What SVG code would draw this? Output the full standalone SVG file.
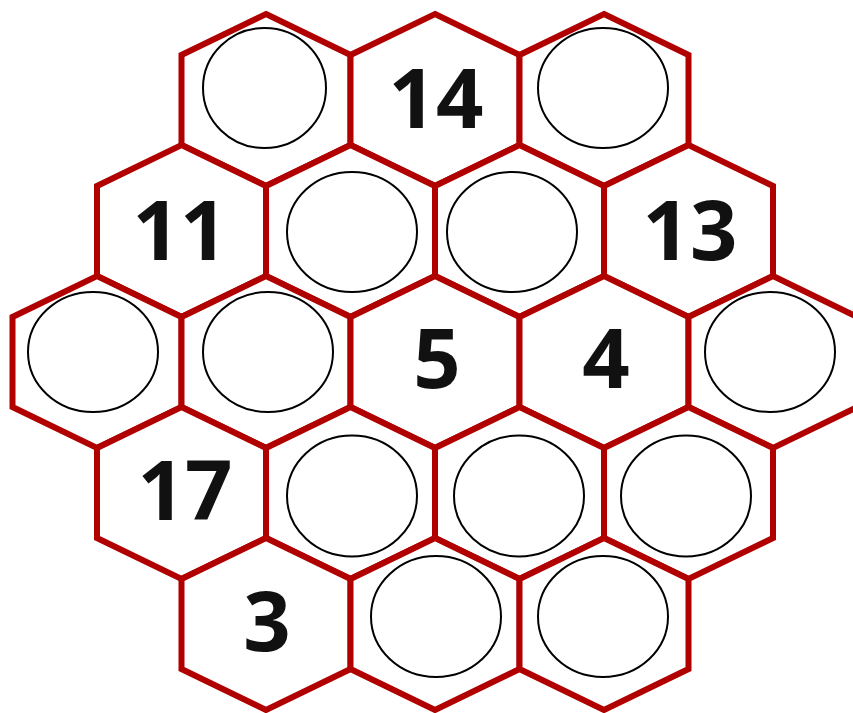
<svg xmlns="http://www.w3.org/2000/svg" xmlns:xlink="http://www.w3.org/1999/xlink" width="853" height="713" viewBox="0 0 853 713">
<style>
.hex{fill:#fff;stroke:#b00000;stroke-width:6;stroke-linejoin:miter}
.c{fill:#fff;stroke:#000;stroke-width:2}
.n{font-family:"Open Sans","DejaVu Sans",sans-serif;font-weight:bold;font-size:83px;fill:#111;text-anchor:middle}
</style>
<defs>
<polygon id="h" class="hex" points="0,-86 84.5,-45 84.5,45 0,86 -84.5,45 -84.5,-45"/>
</defs>
<rect width="853" height="713" fill="#fff"/>
<g id="hexes">
<use xlink:href="#h" x="266" y="100"/>
<use xlink:href="#h" x="435" y="100"/>
<use xlink:href="#h" x="604" y="100"/>
<use xlink:href="#h" x="181.5" y="231"/>
<use xlink:href="#h" x="350.5" y="231"/>
<use xlink:href="#h" x="519.5" y="231"/>
<use xlink:href="#h" x="688.5" y="231"/>
<use xlink:href="#h" x="97" y="362"/>
<use xlink:href="#h" x="266" y="362"/>
<use xlink:href="#h" x="435" y="362"/>
<use xlink:href="#h" x="604" y="362"/>
<use xlink:href="#h" x="773" y="362"/>
<use xlink:href="#h" x="181.5" y="493"/>
<use xlink:href="#h" x="350.5" y="493"/>
<use xlink:href="#h" x="519.5" y="493"/>
<use xlink:href="#h" x="688.5" y="493"/>
<use xlink:href="#h" x="266" y="624"/>
<use xlink:href="#h" x="435" y="624"/>
<use xlink:href="#h" x="604" y="624"/>
</g>
<g id="circles">
<ellipse class="c" cx="264.5" cy="88" rx="61.5" ry="60"/>
<ellipse class="c" cx="603" cy="88" rx="65" ry="60"/>
<ellipse class="c" cx="352" cy="232" rx="65" ry="60"/>
<ellipse class="c" cx="512" cy="232" rx="65" ry="60"/>
<ellipse class="c" cx="93" cy="352" rx="65" ry="60"/>
<ellipse class="c" cx="268" cy="352" rx="65" ry="60"/>
<ellipse class="c" cx="770" cy="352" rx="65" ry="60"/>
<ellipse class="c" cx="352" cy="496" rx="65" ry="60.5"/>
<ellipse class="c" cx="519" cy="496" rx="65" ry="60.5"/>
<ellipse class="c" cx="686" cy="496" rx="65" ry="60.5"/>
<ellipse class="c" cx="436" cy="616.5" rx="65" ry="60.5"/>
<ellipse class="c" cx="603" cy="616.5" rx="65" ry="60.5"/>
</g>
<g id="numbers">
<text class="n" x="436" y="128">14</text>
<text class="n" x="180" y="260">11</text>
<text class="n" x="690" y="260">13</text>
<text class="n" x="437" y="388">5</text>
<text class="n" x="606" y="388">4</text>
<text class="n" x="185" y="520">17</text>
<text class="n" x="267" y="651">3</text>
</g>
</svg>
